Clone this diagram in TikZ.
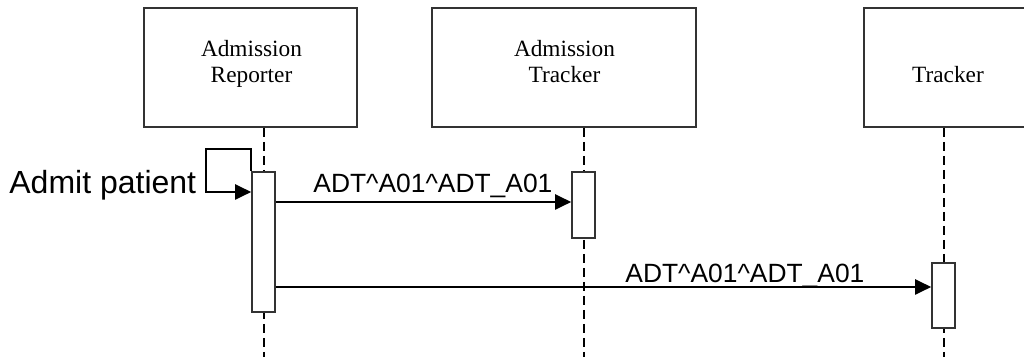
\documentclass[tikz,border=0pt]{standalone}
\usepackage{fontspec}
\setmainfont{Liberation Serif}
\newfontfamily\arialfont{Liberation Sans}
\usetikzlibrary{arrows.meta}
\begin{document}
\begin{tikzpicture}[x=0.5pt,y=-0.5pt,
  actorbox/.style={draw=black!80, line width=0.8pt, rectangle, minimum height=59.5pt, inner sep=0pt},
  actorname/.style={inner sep=0pt, align=center, font=\fontsize{11.65}{13}\selectfont},
  lifeline/.style={line width=1pt, dash pattern=on 4.5pt off 2.5pt},
  actbox/.style={draw=black!80, line width=0.8pt, fill=white, rectangle, minimum width=11.5pt, inner sep=0pt},
  msg/.style={line width=1pt, -{Triangle[length=8pt,width=7.5pt]}},
  msglabel/.style={inner sep=0pt, font=\arialfont\fontsize{13.2}{15}\selectfont},
]
\useasboundingbox (0,0) rectangle (1024,357);
% actor boxes
\node[actorbox, minimum width=106.5pt] (ar) at (250.5,67.5) {};
\node[actorbox, minimum width=132pt] (at) at (564,67.5) {};
\node[actorbox, minimum width=84pt] (tr) at (948,67.5) {};
\node[actorname, anchor=base] (arT) at (251.5,83) {Admission\\Reporter};
\node[actorname, anchor=base] (atT) at (564.5,83) {Admission\\Tracker};
\node[actorname, anchor=base] (trT) at (948,83) {Tracker};
% activation boxes
\coordinate (bot) at (0,357);
\node[actbox, minimum height=70pt] (a1) at (263.5,242) {};
\node[actbox, minimum height=33pt] (a2) at (583.5,205) {};
\node[actbox, minimum height=32.5pt] (a3) at (943.5,295.5) {};
% lifelines
\draw[lifeline] (a1.center |- ar.south) -- (a1.center |- bot);
\draw[lifeline] (a2.center |- at.south) -- (a2.center |- bot);
\draw[lifeline] (a3.center |- tr.south) -- (a3.center |- bot);
% redraw activation boxes on top
\node[actbox, minimum height=70pt] at (263.5,242) {};
\node[actbox, minimum height=33pt] at (583.5,205) {};
\node[actbox, minimum height=32.5pt] at (943.5,295.5) {};
% self message
\coordinate (s1) at (0,192);
\draw[msg] (a1.north west) -- ++(0,-22) -- ++(-45,0) |- (a1.west |- s1);
\node[msglabel, anchor=base west, font=\arialfont\fontsize{16}{18}\selectfont] (l0) at (9,194) {Admit patient};
% messages
\coordinate (m1) at (0,202);
\coordinate (m2) at (0,287);
\draw[msg] (a1.east |- m1) -- (a2.west |- m1);
\draw[msg] (a1.east |- m2) -- (a3.west |- m2);
\node[msglabel, anchor=base west] (l1) at (313,193) {ADT\^{}A01\^{}ADT\_A01};
\node[msglabel, anchor=base west] (l2) at (625,283) {ADT\^{}A01\^{}ADT\_A01};
\end{tikzpicture}
\end{document}
